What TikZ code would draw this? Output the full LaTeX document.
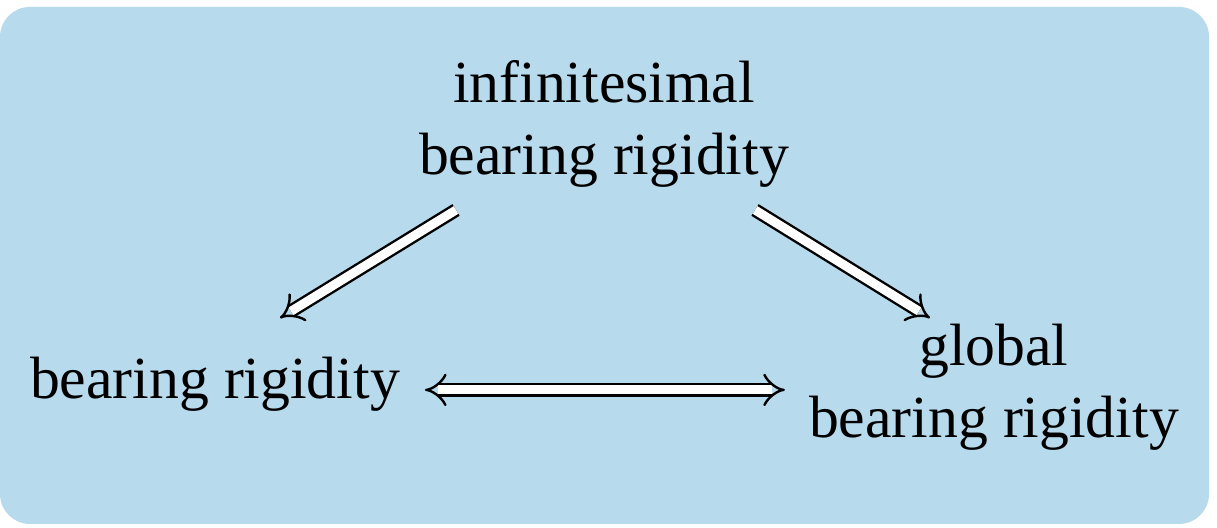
\documentclass[tikz,border=0pt]{standalone}
\usepackage{fontspec}
\setmainfont{Liberation Serif}
\usepackage{tikz}
\usetikzlibrary{arrows.meta,calc}
\definecolor{panelblue}{RGB}{183,218,237}

\begin{document}
\begin{tikzpicture}[
    label/.style={align=center, inner sep=0pt},
    arrow/.style={double=white, double distance=1.5pt, line width=0.4pt, -{Implies[length=3.2pt, width=5.5pt]}},
    biarrow/.style={arrow, {Implies[length=3.2pt, width=5.5pt]}-{Implies[length=3.2pt, width=5.5pt]}}
]
\useasboundingbox (0,0) rectangle (7.163,-3.102);
\fill[panelblue, rounded corners=5pt] (0,-0.041) rectangle (7.116,-3.084);
\node[label] (inf) at (3.555,-0.73) {infinitesimal\\bearing rigidity};
\node[label] (bear) at (1.265,-2.26) {bearing rigidity};
\node[label] (glob) at (5.85,-2.28) {global\\bearing rigidity};
\draw[arrow] ($(inf)+(-0.871,-0.506)$) -- ($(bear)+(0.383,0.388)$);
\draw[arrow] ($(inf)+(0.889,-0.506)$) -- ($(glob)+(-0.376,0.408)$);
\draw[biarrow] ($(bear)+(1.236,-0.035)$) -- ($(glob)+(-1.23,-0.015)$);
\end{tikzpicture}
\end{document}
